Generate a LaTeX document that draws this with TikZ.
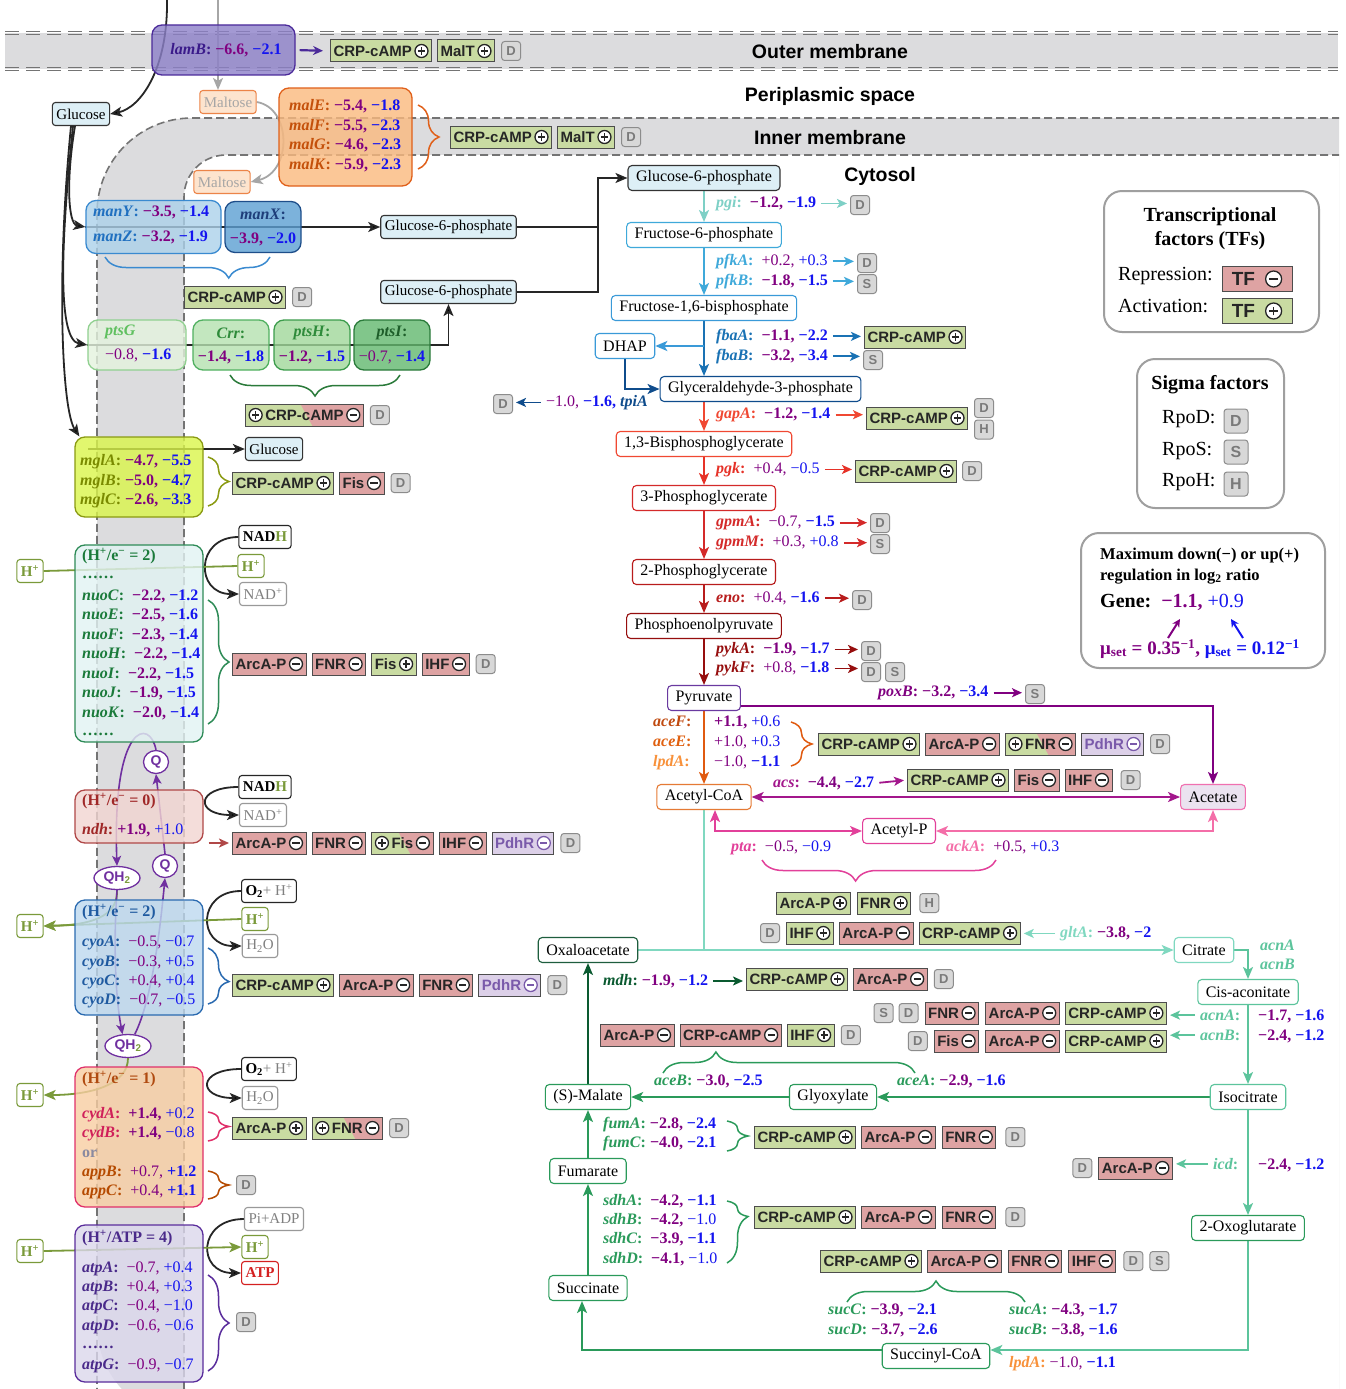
\documentclass[tikz,border=0pt]{standalone}
\usepackage{fontspec}
\setmainfont{Liberation Serif}
\setsansfont{Liberation Sans}
\usetikzlibrary{arrows.meta,positioning,calc,shapes.geometric,decorations.pathreplacing}
\pgfdeclarelayer{mem}
\pgfdeclarelayer{bg}
\pgfsetlayers{mem,bg,main}
\definecolor{cpur}{HTML}{800080}
\definecolor{cblu}{HTML}{1414F0}
\definecolor{memfill}{HTML}{DCDCDE}
\definecolor{memline}{HTML}{747474}
\definecolor{tfgreen}{HTML}{C9DBA2}
\definecolor{tfred}{HTML}{DEA3A3}
\definecolor{tfpurp}{HTML}{DCD0E8}
\definecolor{tfptx}{HTML}{7A5AAA}
\definecolor{tfbd}{HTML}{4D4D4D}
\definecolor{sigfill}{HTML}{D8D8D8}
\definecolor{sigbd}{HTML}{8C8C8C}
\definecolor{sigtx}{HTML}{7A7A7A}
\definecolor{metblue}{HTML}{DDEFF6}
\definecolor{lamfill}{HTML}{8C80C8}
\definecolor{lambd}{HTML}{4B2A9A}
\definecolor{lamtx}{HTML}{3A1A8A}
\definecolor{malfill}{HTML}{FAB97E}
\definecolor{malbd}{HTML}{E0601A}
\definecolor{maltx}{HTML}{C4500A}
\definecolor{maltf}{HTML}{FDE4CE}
\definecolor{maltbd}{HTML}{EC8448}
\definecolor{malttx}{HTML}{A6A6A6}
\definecolor{manyzf}{HTML}{ACD1EA}
\definecolor{manyzbd}{HTML}{3A8AD0}
\definecolor{manyztx}{HTML}{2070C0}
\definecolor{manxf}{HTML}{5C9FD3}
\definecolor{manxbd}{HTML}{1E4E8A}
\definecolor{manxtx}{HTML}{1E3E7A}
\definecolor{ptsgf}{HTML}{E4F3DE}
\definecolor{ptsgbd}{HTML}{90D090}
\definecolor{ptsgtx}{HTML}{60C060}
\definecolor{crrf}{HTML}{B5E1B0}
\definecolor{crrbd}{HTML}{50B060}
\definecolor{crrtx}{HTML}{2E8B3A}
\definecolor{ptshf}{HTML}{A0D89A}
\definecolor{ptshbd}{HTML}{3C9C4C}
\definecolor{ptsif}{HTML}{62B86E}
\definecolor{ptsibd}{HTML}{2A7A3A}
\definecolor{ptsitx}{HTML}{1E5E2A}
\definecolor{mglf}{HTML}{DAF54A}
\definecolor{mglbd}{HTML}{8A9A12}
\definecolor{mgltx}{HTML}{7A8A00}
\definecolor{nuof}{HTML}{E2F3F3}
\definecolor{nuobd}{HTML}{2E8B57}
\definecolor{nuotx}{HTML}{1A7A3A}
\definecolor{ndhf}{HTML}{F2D5D1}
\definecolor{ndhbd}{HTML}{B04848}
\definecolor{ndhtx}{HTML}{A02828}
\definecolor{cyof}{HTML}{BDD9EF}
\definecolor{cyobd}{HTML}{2A6AB0}
\definecolor{cyotx}{HTML}{1F5AA0}
\definecolor{cydf}{HTML}{F8CDA2}
\definecolor{cydbd}{HTML}{E0306A}
\definecolor{cydtx}{HTML}{D0205A}
\definecolor{apptx}{HTML}{B54A00}
\definecolor{cydhd}{HTML}{B04A10}
\definecolor{ortx}{HTML}{8A8AA0}
\definecolor{atpf}{HTML}{DBD7EC}
\definecolor{atpbd}{HTML}{5A2D9C}
\definecolor{atptx}{HTML}{4A2A8A}
\definecolor{olv}{HTML}{7A9A3A}
\definecolor{qpur}{HTML}{7030A0}
\definecolor{cpgi}{HTML}{7ED0C6}
\definecolor{cpfk}{HTML}{3FA9DA}
\definecolor{cfba}{HTML}{1A72B4}
\definecolor{cfbb}{HTML}{3A9AD8}
\definecolor{ctpi}{HTML}{0F4C8C}
\definecolor{cgap}{HTML}{F04832}
\definecolor{cpgk}{HTML}{E63228}
\definecolor{cgpm}{HTML}{D42A2A}
\definecolor{ceno}{HTML}{B81C1C}
\definecolor{cpyk}{HTML}{960E0E}
\definecolor{cpyr}{HTML}{6A3AA0}
\definecolor{cacef}{HTML}{C04A10}
\definecolor{cacee}{HTML}{E06010}
\definecolor{clpd}{HTML}{F8913A}
\definecolor{cpdh}{HTML}{E05A10}
\definecolor{cacoa}{HTML}{E57A35}
\definecolor{cacs}{HTML}{A3178C}
\definecolor{cpta}{HTML}{E2409A}
\definecolor{cack}{HTML}{F46EA8}
\definecolor{acetf}{HTML}{EBE3F0}
\definecolor{acetbd}{HTML}{F070B0}
\definecolor{cteal}{HTML}{80D8C0}
\definecolor{ctca2}{HTML}{5CC49C}
\definecolor{ctca}{HTML}{2A9A5A}
\definecolor{cmdh}{HTML}{0A5A30}
\definecolor{coaa}{HTML}{1E5E3E}
\definecolor{catp}{HTML}{D42020}
\newcommand\fmet{\fontsize{16}{18}\selectfont}
\newcommand\fsml{\fontsize{15}{17}\selectfont}
\newcommand\fgene{\fontsize{16}{18}\selectfont}
\newcommand\ftf{\sffamily\bfseries\fontsize{15}{17}\selectfont}
\newcommand\fmem{\sffamily\bfseries\fontsize{19.5}{21}\selectfont}
\newcommand\fleg{\fontsize{20}{24}\selectfont}
\newcommand\cpl[1][6.5]{\tikz[baseline=-0.68ex]{\draw[line width=1.3pt,fill=white] (0pt,0pt) circle[radius=#1pt]; \draw[line width=1.5pt] ({-0.55*#1pt},0pt) -- ({0.55*#1pt},0pt) (0pt,{-0.55*#1pt}) -- (0pt,{0.55*#1pt});}}
\newcommand\cmi[1][6.5]{\tikz[baseline=-0.68ex]{\draw[line width=1.3pt,fill=white] (0pt,0pt) circle[radius=#1pt]; \draw[line width=1.5pt] ({-0.55*#1pt},0pt) -- ({0.55*#1pt},0pt);}}
\newcommand\vP[1]{\textcolor{cpur}{#1}}
\newcommand\vPb[1]{\textcolor{cpur}{\textbf{#1}}}
\newcommand\vB[1]{\textcolor{cblu}{#1}}
\newcommand\vBb[1]{\textcolor{cblu}{\textbf{#1}}}
\newcommand\gnm[2]{\textcolor{#1}{\textbf{\textit{#2}:}}}
\newcommand\gnx[2]{\textcolor{#1}{\textbf{\textit{#2}}}}
\newcommand\CRPp{CRP-cAMP\,\cpl}
\newcommand\CRPm{CRP-cAMP\,\cmi}
\newcommand\ArcAm{ArcA-P\,\cmi}
\newcommand\ArcAp{ArcA-P\,\cpl}
\newcommand\FNRm{FNR\,\cmi}
\newcommand\FNRp{FNR\,\cpl}
\newcommand\Fism{Fis\,\cmi}
\newcommand\Fisp{Fis\,\cpl}
\newcommand\IHFm{IHF\,\cmi}
\newcommand\IHFp{IHF\,\cpl}
\newcommand\PdhRm{PdhR\,\cmi}
\newcommand\MalTp{MalT\,\cpl}
\newcommand\Hp{H\textsuperscript{+}}
\begin{document}
\begin{tikzpicture}[x=1pt,y=-1pt,
 met/.style={draw=#1, rounded corners=4pt, line width=1.1pt, fill=white, font=\fmet, inner xsep=8pt, inner ysep=0pt, minimum height=25pt},
 sml/.style={draw=#1, rounded corners=3pt, line width=1.1pt, fill=white, font=\fsml, inner xsep=4pt, inner ysep=0pt, minimum height=23pt},
 gl/.style={anchor=mid west, inner sep=0pt, font=\fgene},
 cbox/.style 2 args={draw=#1, fill=#2, fill opacity=0.8, rounded corners=10pt, line width=1.3pt, inner sep=0pt},
 tfb/.style={draw=tfbd, line width=1pt, font=\ftf, text=black!85, minimum height=22pt, inner xsep=3pt, inner ysep=0pt, anchor=west},
 tfg/.style={tfb, fill=tfgreen},
 tfr/.style={tfb, fill=tfred},
 tfp/.style={tfb, fill=tfpurp, text=tfptx},
 tfm/.style={tfb, fill=tfgreen, path picture={\fill[tfred] ($(path picture bounding box.north)+(-4pt,0pt)$) -- (path picture bounding box.north east) -- (path picture bounding box.south east) -- ($(path picture bounding box.south)+(8pt,0pt)$) -- cycle;}},
 sig/.style={draw=sigbd, fill=sigfill, rounded corners=3pt, line width=1pt, font=\sffamily\bfseries\fontsize{13}{13}\selectfont, text=sigtx, minimum width=19pt, minimum height=19pt, inner sep=0pt},
 qn/.style={ellipse, draw=qpur, line width=1.3pt, fill=white, text=qpur, font=\sffamily\bfseries\fontsize{14}{14}\selectfont, inner sep=1pt, minimum width=25pt, minimum height=23pt},
 pw/.style={draw=#1, line width=1.8pt, -{Stealth[length=12pt,width=10pt,inset=3pt]}},
 sa/.style={draw=#1, line width=1.8pt, -{Stealth[length=10pt,width=9pt,inset=2.5pt]}, shorten <=5pt, shorten >=3pt},
 brc/.style={draw=#1, line width=1.5pt, decorate, decoration={brace, amplitude=21pt}},
 blk/.style={draw=black!85, line width=1.8pt, -{Stealth[length=12pt,width=10pt,inset=3pt]}},
 olvl/.style={draw=olv, line width=1.8pt},
 qline/.style={draw=qpur, line width=1.6pt, -{Stealth[length=10pt,width=9pt,inset=2.5pt]}},
 legbox/.style={draw=gray!75, line width=2pt, rounded corners=18pt, fill=white},
 twoway/.style={{Stealth[length=12pt,width=10pt,inset=3pt]}-{Stealth[length=12pt,width=10pt,inset=3pt]}},
]
\useasboundingbox (0,0) rectangle (1345,1389);
% ---------- membranes ----------
\begin{pgfonlayer}{mem}
\fill[white] (0,0) rectangle (1345,1389);
\begin{scope}
\clip (0,0) rectangle (1339,1389);
\fill[memfill] (5,33) rectangle (1338,69);
\foreach \yy in {31.5,34.5,67.5,70.5} \draw[memline,line width=1.7pt,dash pattern=on 14pt off 7pt] (5,\yy) -- (1338,\yy);
\fill[memfill] (1400,118) [rounded corners=95pt] -- (97,118) -- (97,1420) [sharp corners] -- (1400,1420) -- cycle;
\fill[white] (1400,155) [rounded corners=42pt] -- (184,155) -- (184,1420) [sharp corners] -- (1400,1420) -- cycle;
\draw[memline,line width=1.6pt,dash pattern=on 8pt off 4pt] (1400,118) [rounded corners=95pt] -- (97,118) -- (97,1420);
\draw[memline,line width=1.6pt,dash pattern=on 8pt off 4pt] (1400,155) [rounded corners=42pt] -- (184,155) -- (184,1420);
\end{scope}
\end{pgfonlayer}
\node[font=\fmem] (lom) at (830,52) {Outer membrane};
\node[font=\fmem] (lps) at (830,96) {Periplasmic space};
\node[font=\fmem] (lim) at (830,138) {Inner membrane};
\node[font=\fmem] (lcy) at (880,176) {Cytosol};
% ---------- top left ----------
\node[cbox={lambd}{lamfill}, minimum width=143pt, minimum height=50pt] (lamb) at (223.5,50) {};
\node[gl, anchor=center] (lambt) at (226,50) {\gnm{lamtx}{lamB}\ \vPb{−6.6,} \vBb{−2.1}};
\node[tfg] (lr1) at (330,51) {\CRPp};
\node[tfg, right=5pt of lr1] (lr2) {\MalTp};
\node[sig, right=6pt of lr2] (lr3) {D};
\node[sml=black!80, fill=metblue] (glc1) at (81,114) {Glucose};
\node[sml=maltbd, fill=maltf, text=malttx] (malt1) at (228,102) {Maltose};
\node[sml=maltbd, fill=maltf, text=malttx] (malt2) at (222,182) {Maltose};
\node[cbox={malbd}{malfill}, minimum width=133pt, minimum height=98pt] (malb) at (345.5,137) {};
\node[gl] (m1) at (289,108) {\gnm{maltx}{malE}\ \vPb{−5.4,} \vBb{−1.8}};
\node[gl] (m2) at (289,128) {\gnm{maltx}{malF}\ \vPb{−5.5,} \vBb{−2.3}};
\node[gl] (m3) at (289,147) {\gnm{maltx}{malG}\ \vPb{−4.6,} \vBb{−2.3}};
\node[gl] (m4) at (289,167) {\gnm{maltx}{malK}\ \vPb{−5.9,} \vBb{−2.3}};
\draw[brc=malbd] (418,105) -- (418,169);
\node[tfg] (mr1) at (450,137) {\CRPp};
\node[tfg, right=5pt of mr1] (mr2) {\MalTp};
\node[sig, right=6pt of mr2] (mr3) {D};
% man
\node[cbox={manyzbd}{manyzf}, minimum width=135pt, minimum height=53pt] (manyz) at (153.5,227) {};
\node[cbox={manxbd}{manxf}, minimum width=76pt, minimum height=51pt] (manx) at (263,227) {};
\node[gl] (my) at (93,214) {\gnm{manyztx}{manY}\ \vPb{−3.5,} \vBb{−1.4}};
\node[gl] (mz) at (93,239) {\gnm{manyztx}{manZ}\ \vPb{−3.2,} \vBb{−1.9}};
\node[gl, anchor=center] (mx1) at (263,214) {\gnm{manxtx}{manX}};
\node[gl, anchor=center] (mx2) at (263,239) {\vPb{−3.9,} \vBb{−2.0}};
\draw[brc=manyzbd, decoration={aspect=0.25}] (270,257) -- (105,257);
\node[tfg] (manr1) at (184,297) {\CRPp};
\node[sig, right=6pt of manr1] (manr2) {D};
\node[sml=black!80, fill=metblue] (g6pa) at (448.5,227) {Glucose-6-phosphate};
\node[sml=black!80, fill=metblue] (g6pb) at (448.5,292) {Glucose-6-phosphate};
% pts
\node[cbox={ptsgbd}{ptsgf}, minimum width=98pt, minimum height=50pt] (ptsg) at (137,345) {};
\node[cbox={crrbd}{crrf}, minimum width=76pt, minimum height=50pt] (crr) at (231,345) {};
\node[cbox={ptshbd}{ptshf}, minimum width=76pt, minimum height=50pt] (ptsh) at (312,345) {};
\node[cbox={ptsibd}{ptsif}, minimum width=76pt, minimum height=50pt] (ptsi) at (392,345) {};
\node[gl] (ptsg1) at (105,333) {\gnx{ptsgtx}{ptsG}};
\node[gl] (ptsg2) at (105,357) {\vP{−0.8,} \vBb{−1.6}};
\node[gl, anchor=center] (crr1) at (231,333) {\gnm{crrtx}{Crr}};
\node[gl, anchor=center] (crr2) at (231,357) {\vPb{−1.4,} \vBb{−1.8}};
\node[gl, anchor=center] (ptsh1) at (312,333) {\gnm{crrtx}{ptsH}};
\node[gl, anchor=center] (ptsh2) at (312,357) {\vPb{−1.2,} \vBb{−1.5}};
\node[gl, anchor=center] (ptsi1) at (392,333) {\gnm{ptsitx}{ptsI}};
\node[gl, anchor=center] (ptsi2) at (392,357) {\vP{−0.7,} \vBb{−1.4}};
\draw[brc=ptsibd] (400,375) -- (230,375);
\node[tfm] (ptsr1) at (245,415) {\cpl\,CRP-cAMP\,\cmi};
\node[sig, right=6pt of ptsr1] (ptsr2) {D};
% mgl
\node[cbox={mglbd}{mglf}, minimum width=128pt, minimum height=80pt] (mgl) at (139,477) {};
\node[gl] (mg1) at (80,463) {\gnm{mgltx}{mglA}\ \vPb{−4.7,} \vBb{−5.5}};
\node[gl] (mg2) at (80,483) {\gnm{mgltx}{mglB}\ \vPb{−5.0,} \vBb{−4.7}};
\node[gl] (mg3) at (80,502) {\gnm{mgltx}{mglC}\ \vPb{−2.6,} \vBb{−3.3}};
\node[sml=black!80, fill=metblue] (glc2) at (274,449) {Glucose};
\draw[brc=mglbd] (208,457) -- (208,506);
\node[tfg] (mgr1) at (232,483) {\CRPp};
\node[tfr, right=5pt of mgr1] (mgr2) {\Fism};
\node[sig, right=6pt of mgr2] (mgr3) {D};
% nuo
\node[cbox={nuobd}{nuof}, minimum width=128pt, minimum height=197pt] (nuo) at (139,643.5) {};
\node[gl] (nu0) at (82,558) {\textcolor{nuotx}{\textbf{(H\textsuperscript{+}/e\textsuperscript{−} = 2)}}};
\node[gl] (nu00) at (82,576) {\textcolor{nuotx}{\textbf{……}}};
\node[gl] (nu1) at (82,598) {\gnm{nuotx}{nuoC}\enspace\vPb{−2.2,} \vBb{−1.2}};
\node[gl] (nu2) at (82,617) {\gnm{nuotx}{nuoE}\enspace\vPb{−2.5,} \vBb{−1.6}};
\node[gl] (nu3) at (82,637) {\gnm{nuotx}{nuoF}\enspace\vPb{−2.3,} \vBb{−1.4}};
\node[gl] (nu4) at (82,656) {\gnm{nuotx}{nuoH}\enspace\vPb{−2.2,} \vBb{−1.4}};
\node[gl] (nu5) at (82,676) {\gnm{nuotx}{nuoI}\enspace\vPb{−2.2,} \vBb{−1.5}};
\node[gl] (nu6) at (82,695) {\gnm{nuotx}{nuoJ}\enspace\vPb{−1.9,} \vBb{−1.5}};
\node[gl] (nu7) at (82,715) {\gnm{nuotx}{nuoK}\enspace\vPb{−2.0,} \vBb{−1.4}};
\node[gl] (nu8) at (82,733) {\textcolor{nuotx}{\textbf{……}}};
\node[sml=black!85, font=\bfseries\fsml] (nadh1) at (265,537) {NAD\textcolor{olv}{H}};
\node[sml=olv, text=olv, font=\bfseries\fsml] (hp1) at (251,566) {\Hp};
\node[sml=gray!80, text=gray] (nad1) at (263,594) {NAD\textsuperscript{+}};
\node[sml=olv, text=olv, font=\bfseries\fsml] (hpl1) at (30,571) {\Hp};
\draw[brc=nuobd] (208,600) -- (208,724);
\node[tfr] (nur1) at (232,664) {\ArcAm};
\node[tfr, right=5pt of nur1] (nur2) {\FNRm};
\node[tfg, right=5pt of nur2] (nur3) {\Fisp};
\node[tfr, right=5pt of nur3] (nur4) {\IHFm};
\node[sig, right=6pt of nur4] (nur5) {D};
% ndh
\node[cbox={ndhbd}{ndhf}, minimum width=128pt, minimum height=53pt] (ndh) at (139,816.5) {};
\node[gl] (nd0) at (82,803) {\textcolor{ndhtx}{\textbf{(H\textsuperscript{+}/e\textsuperscript{−} = 0)}}};
\node[gl] (nd1) at (82,832) {\gnm{ndhtx}{ndh}\ \vPb{+1.9,} \vB{+1.0}};
\node[sml=black!85, font=\bfseries\fsml] (nadh2) at (265,787) {NAD\textcolor{olv}{H}};
\node[sml=gray!80, text=gray] (nad2) at (263,815) {NAD\textsuperscript{+}};
\node[tfr] (ndr1) at (232,843) {\ArcAm};
\node[tfr, right=5pt of ndr1] (ndr2) {\FNRm};
\node[tfm, right=5pt of ndr2] (ndr3) {\cpl\,Fis\,\cmi};
\node[tfr, right=5pt of ndr3] (ndr4) {\IHFm};
\node[tfp, right=5pt of ndr4] (ndr5) {\PdhRm};
\node[sig, right=6pt of ndr5] (ndr6) {D};
% cyo
\node[cbox={cyobd}{cyof}, minimum width=128pt, minimum height=115pt] (cyo) at (139,957.5) {};
\node[gl] (cy0) at (82,914) {\textcolor{cyotx}{\textbf{(H\textsuperscript{+}/e\textsuperscript{−} = 2)}}};
\node[gl] (cy1) at (82,944) {\gnm{cyotx}{cyoA}\enspace\vP{−0.5,} \vB{−0.7}};
\node[gl] (cy2) at (82,964) {\gnm{cyotx}{cyoB}\enspace\vP{−0.3,} \vB{+0.5}};
\node[gl] (cy3) at (82,983) {\gnm{cyotx}{cyoC}\enspace\vP{+0.4,} \vB{+0.4}};
\node[gl] (cy4) at (82,1002) {\gnm{cyotx}{cyoD}\enspace\vP{−0.7,} \vB{−0.5}};
\node[sml=black!85] (o2a) at (269,891) {\textbf{O\textsubscript{2}}\textcolor{gray}{+ H\textsuperscript{+}}};
\node[sml=olv, text=olv, font=\bfseries\fsml] (hp2) at (255,919) {\Hp};
\node[sml=gray!80, text=gray] (h2oa) at (260,946) {H\textsubscript{2}O};
\node[sml=olv, text=olv, font=\bfseries\fsml] (hpl2) at (30,926) {\Hp};
\draw[brc=cyobd, decoration={aspect=0.6}] (208,948) -- (208,1004);
\node[tfg] (cyr1) at (232,985) {\CRPp};
\node[tfr, right=5pt of cyr1] (cyr2) {\ArcAm};
\node[tfr, right=5pt of cyr2] (cyr3) {\FNRm};
\node[tfp, right=5pt of cyr3] (cyr4) {\PdhRm};
\node[sig, right=6pt of cyr4] (cyr5) {D};
% Q
\node[qn] (qa) at (156,762) {Q};
\node[qn] (qb) at (165,866) {Q};
\node[qn, minimum width=46pt] (qh2a) at (117,878) {QH\textsubscript{\textcolor{olv}{2}}};
\node[qn, minimum width=46pt] (qh2b) at (128,1046) {QH\textsubscript{\textcolor{olv}{2}}};
% cyd
\node[cbox={cydbd}{cydf}, minimum width=128pt, minimum height=140pt] (cyd) at (139,1137) {};
\node[gl] (cd0) at (82,1081) {\textcolor{cydhd}{\textbf{(H\textsuperscript{+}/e\textsuperscript{−} = 1)}}};
\node[gl] (cd1) at (82,1116) {\gnm{cydtx}{cydA}\enspace\vPb{+1.4,} \vB{+0.2}};
\node[gl] (cd2) at (82,1135) {\gnm{cydtx}{cydB}\enspace\vPb{+1.4,} \vB{−0.8}};
\node[gl] (cd3) at (82,1155) {\textcolor{ortx}{\textbf{or}}};
\node[gl] (cd4) at (82,1174) {\gnm{apptx}{appB}\enspace\vP{+0.7,} \vBb{+1.2}};
\node[gl] (cd5) at (82,1193) {\gnm{apptx}{appC}\enspace\vP{+0.4,} \vBb{+1.1}};
\node[sml=black!85] (o2b) at (269,1069) {\textbf{O\textsubscript{2}}\textcolor{gray}{+ H\textsuperscript{+}}};
\node[sml=gray!80, text=gray] (h2ob) at (260,1098) {H\textsubscript{2}O};
\node[sml=olv, text=olv, font=\bfseries\fsml] (hpl3) at (30,1095) {\Hp};
\draw[brc=cydbd] (208,1112) -- (208,1141);
\node[tfg] (cdr1) at (232,1128) {\ArcAp};
\node[tfm, right=5pt of cdr1] (cdr2) {\cpl\,FNR\,\cmi};
\node[sig, right=6pt of cdr2] (cdr3) {D};
\draw[brc=apptx] (208,1171) -- (208,1199);
\node[sig] (appd) at (246,1185) {D};
% atp
\node[cbox={atpbd}{atpf}, minimum width=128pt, minimum height=157pt] (atpb) at (139,1303.5) {};
\node[gl] (at0) at (82,1240) {\textcolor{atptx}{\textbf{(H\textsuperscript{+}/ATP = 4)}}};
\node[gl] (at1) at (82,1270) {\gnm{atptx}{atpA}\enspace\vP{−0.7,} \vB{+0.4}};
\node[gl] (at2) at (82,1289) {\gnm{atptx}{atpB}\enspace\vP{+0.4,} \vB{+0.3}};
\node[gl] (at3) at (82,1308) {\gnm{atptx}{atpC}\enspace\vP{−0.4,} \vB{−1.0}};
\node[gl] (at4) at (82,1328) {\gnm{atptx}{atpD}\enspace\vP{−0.6,} \vB{−0.6}};
\node[gl] (at5) at (82,1346) {\textcolor{atptx}{\textbf{……}}};
\node[gl] (at6) at (82,1367) {\gnm{atptx}{atpG}\enspace\vP{−0.9,} \vB{−0.7}};
\node[sml=gray!80, text=gray] (piadp) at (274,1219) {Pi+ADP};
\node[sml=olv, text=olv, font=\bfseries\fsml] (hp3) at (255,1247) {\Hp};
\node[sml=catp, text=catp, font=\bfseries\fsml] (atpn) at (260,1273) {ATP};
\node[sml=olv, text=olv, font=\bfseries\fsml] (hpl4) at (30,1251) {\Hp};
\draw[brc=atpbd] (208,1275) -- (208,1371);
\node[sig] (atpd) at (246,1322) {D};
% ---------- glycolysis ----------
\node[met=black!80, fill=metblue] (g6p) at (704,178) {Glucose-6-phosphate};
\node[met=cpfk] (f6p) at (704,235) {Fructose-6-phosphate};
\node[met=cfbb] (fbp) at (704,308) {Fructose-1,6-bisphosphate};
\node[met=cfbb] (dhap) at (625,346) {DHAP};
\node[met=ctpi] (gap) at (760.5,389) {Glyceraldehyde-3-phosphate};
\node[met=cgap] (bpg) at (704,444) {1,3-Bisphosphoglycerate};
\node[met=cgpm] (pg3) at (704,498) {3-Phosphoglycerate};
\node[met=ceno] (pg2) at (704,572) {2-Phosphoglycerate};
\node[met=cpyk] (pep) at (704,626) {Phosphoenolpyruvate};
\node[met=cpyr] (pyr) at (704,698) {Pyruvate};
\node[met=cacoa] (acoa) at (704,797) {Acetyl-CoA};
\node[met=acetbd, fill=acetf] (acet) at (1213,797) {Acetate};
\node[met=cpta] (acp) at (899,831) {Acetyl-P};
\node[met=coaa] (oaa) at (588,950) {Oxaloacetate};
\node[met=cteal] (cit) at (1204,950) {Citrate};
\node[met=ctca2] (cis) at (1248,992) {Cis-aconitate};
\node[met=ctca2] (iso) at (1248,1097) {Isocitrate};
\node[met=ctca] (glyox) at (833,1097) {Glyoxylate};
\node[met=ctca] (mal) at (588,1097) {(S)-Malate};
\node[met=ctca] (fum) at (588,1171) {Fumarate};
\node[met=ctca] (suc) at (588,1288) {Succinate};
\node[met=ctca] (oxo) at (1248,1228) {2-Oxoglutarate};
\node[met=ctca] (scoa) at (936,1356) {Succinyl-CoA};
% labels glycolysis
\node[gl] (lpgi) at (716,205) {\gnm{cpgi}{pgi}\enspace\vPb{−1.2,} \vBb{−1.9}};
\node[sig] (dpgi) at (860,205) {D};
\node[gl] (lpfka) at (716,263) {\gnm{cpfk}{pfkA}\enspace\vP{+0.2,} \vB{+0.3}};
\node[sig] (dpfka) at (867,263) {D};
\node[gl] (lpfkb) at (716,283) {\gnm{cpfk}{pfkB}\enspace\vPb{−1.8,} \vBb{−1.5}};
\node[sig] (dpfkb) at (867,284) {S};
\node[gl] (lfbaa) at (716,338) {\gnm{cfba}{fbaA}\enspace\vPb{−1.1,} \vBb{−2.2}};
\node[tfg] (rfbaa) at (864,337) {\CRPp};
\node[gl] (lfbab) at (716,358) {\gnm{cfba}{fbaB}\enspace\vPb{−3.2,} \vBb{−3.4}};
\node[sig] (dfbab) at (873,360) {S};
\node[gl, anchor=mid east] (ltpi) at (648,404) {\vP{−1.0,} \vBb{−1.6,} \gnx{ctpi}{tpiA}};
\node[sig] (dtpi) at (503,404) {D};
\node[gl] (lgap) at (716,416) {\gnm{cgap}{gapA}\enspace\vPb{−1.2,} \vBb{−1.4}};
\node[tfg] (rgap) at (866,418) {\CRPp};
\node[sig] (dgap1) at (984,408) {D};
\node[sig] (dgap2) at (984,429.5) {H};
\node[gl] (lpgk) at (716,471) {\gnm{cpgk}{pgk}\enspace\vP{+0.4,} \vB{−0.5}};
\node[tfg] (rpgk) at (855,471) {\CRPp};
\node[sig, right=5pt of rpgk] (dpgk) {D};
\node[gl] (lgpma) at (716,524) {\gnm{cgpm}{gpmA}\enspace\vP{−0.7,} \vBb{−1.5}};
\node[sig] (dgpma) at (880,523) {D};
\node[gl] (lgpmm) at (716,544) {\gnm{cgpm}{gpmM}\enspace\vP{+0.3,} \vB{+0.8}};
\node[sig] (dgpmm) at (880,544) {S};
\node[gl] (leno) at (716,600) {\gnm{ceno}{eno}\enspace\vP{+0.4,} \vBb{−1.6}};
\node[sig] (deno) at (862,600) {D};
\node[gl] (lpyka) at (716,651) {\gnm{cpyk}{pykA}\enspace\vPb{−1.9,} \vBb{−1.7}};
\node[sig] (dpyka) at (871,651) {D};
\node[gl] (lpykf) at (716,670) {\gnm{cpyk}{pykF}\enspace\vP{+0.8,} \vBb{−1.8}};
\node[sig] (dpykf) at (871,672) {D};
\node[sig] (spykf) at (895,672) {S};
\node[gl] (lpox) at (878,694) {\gnm{cpur}{poxB}\ \vPb{−3.2,} \vBb{−3.4}};
\node[sig] (spox) at (1035,694) {S};
% pyruvate dehydrogenase
\node[gl] (laf) at (653,724) {\gnm{cacef}{aceF}};
\node[gl] (lae) at (653,744) {\gnm{cacee}{aceE}};
\node[gl] (llp) at (653,764) {\gnm{clpd}{lpdA}};
\node[gl] (vaf) at (714,724) {\vPb{+1.1,} \vB{+0.6}};
\node[gl] (vae) at (714,744) {\vP{+1.0,} \vB{+0.3}};
\node[gl] (vlp) at (714,764) {\vP{−1.0,} \vBb{−1.1}};
\draw[brc=cpdh] (791,722) -- (791,766);
\node[tfg] (acr1) at (818,744) {\CRPp};
\node[tfr, right=5pt of acr1] (acr2) {\ArcAm};
\node[tfm, right=5pt of acr2] (acr3) {\cpl\,FNR\,\cmi};
\node[tfp, right=5pt of acr3] (acr4) {\PdhRm};
\node[sig, right=6pt of acr4] (acr5) {D};
\node[gl] (lacs) at (773,785) {\gnm{cacs}{acs}\enspace\vPb{−4.4,} \vBb{−2.7}};
\node[tfg] (csr1) at (907,780) {\CRPp};
\node[tfr, right=5pt of csr1] (csr2) {\Fism};
\node[tfr, right=5pt of csr2] (csr3) {\IHFm};
\node[sig, right=8pt of csr3] (csr4) {D};
\node[gl] (lpta) at (731,849) {\gnm{cpta}{pta}\enspace\vP{−0.5,} \vB{−0.9}};
\node[gl] (lack) at (946,849) {\gnm{cack}{ackA}\enspace\vP{+0.5,} \vB{+0.3}};
\draw[brc=cpta, decoration={aspect=0.6}] (996,860) -- (762,860);
\node[tfg] (pr1) at (776,903) {\ArcAp};
\node[tfg, right=6pt of pr1] (pr2) {\FNRp};
\node[sig, right=8pt of pr2] (pr3) {H};
\node[sig, anchor=west] (pq1) at (760,933) {D};
\node[tfg, right=6pt of pq1] (pq2) {\IHFp};
\node[tfr, right=5pt of pq2] (pq3) {\ArcAm};
\node[tfg, right=5pt of pq3] (pq4) {\CRPp};
\node[gl] (lglt) at (1060,935) {\gnm{cteal}{gltA}\ \vPb{−3.8,} \vBb{−2}};
% TCA labels
\node[gl] (lacn1) at (1260,948) {\gnx{ctca2}{acnA}};
\node[gl] (lacn2) at (1260,967) {\gnx{ctca2}{acnB}};
\node[gl] (lacna) at (1200,1018) {\gnm{ctca2}{acnA}};
\node[gl] (vacna) at (1258,1018) {\vPb{−1.7,} \vBb{−1.6}};
\node[gl] (lacnb) at (1200,1038) {\gnm{ctca2}{acnB}};
\node[gl] (vacnb) at (1258,1038) {\vPb{−2.4,} \vBb{−1.2}};
\node[tfg, anchor=east] (an1) at (1167,1013) {\CRPp};
\node[tfr, left=5pt of an1] (an2) {\ArcAm};
\node[tfr, left=6pt of an2] (an3) {\FNRm};
\node[sig, left=6pt of an3] (an4) {D};
\node[sig, left=5pt of an4] (an5) {S};
\node[tfg, anchor=east] (bn1) at (1167,1041) {\CRPp};
\node[tfr, left=5pt of bn1] (bn2) {\ArcAm};
\node[tfr, left=6pt of bn2] (bn3) {\Fism};
\node[sig, left=6pt of bn3] (bn4) {D};
\node[gl] (lmdh) at (603,983) {\gnm{cmdh}{mdh}\ \vPb{−1.9,} \vBb{−1.2}};
\node[tfg] (mdr1) at (746,979) {\CRPp};
\node[tfr, right=5pt of mdr1] (mdr2) {\ArcAm};
\node[sig, right=6pt of mdr2] (mdr3) {D};
\node[tfr] (gyr1) at (600,1035) {\ArcAm};
\node[tfr, right=5pt of gyr1] (gyr2) {\CRPm};
\node[tfg, right=5pt of gyr2] (gyr3) {\IHFp};
\node[sig, right=6pt of gyr3] (gyr4) {D};
\draw[brc=ctca, decoration={aspect=0.21}] (663,1073) -- (915,1073);
\node[gl] (lacea) at (897,1083) {\gnm{ctca}{aceA}\ \vPb{−2.9,} \vBb{−1.6}};
\node[gl] (laceb) at (654,1083) {\gnm{ctca}{aceB}\ \vPb{−3.0,} \vBb{−2.5}};
\node[gl] (lfuma) at (603,1126) {\gnm{ctca}{fumA}\ \vPb{−2.8,} \vBb{−2.4}};
\node[gl] (lfumc) at (603,1145) {\gnm{ctca}{fumC}\ \vPb{−4.0,} \vBb{−2.1}};
\draw[brc=ctca] (727,1121) -- (727,1151);
\node[tfg] (fur1) at (754,1137) {\CRPp};
\node[tfr, right=5pt of fur1] (fur2) {\ArcAm};
\node[tfr, right=6pt of fur2] (fur3) {\FNRm};
\node[sig, right=9pt of fur3] (fur4) {D};
\node[gl] (lsdha) at (603,1203) {\gnm{ctca}{sdhA}\enspace\vPb{−4.2,} \vBb{−1.1}};
\node[gl] (lsdhb) at (603,1222) {\gnm{ctca}{sdhB}\enspace\vPb{−4.2,} \vB{−1.0}};
\node[gl] (lsdhc) at (603,1241) {\gnm{ctca}{sdhC}\enspace\vPb{−3.9,} \vBb{−1.1}};
\node[gl] (lsdhd) at (603,1261) {\gnm{ctca}{sdhD}\enspace\vPb{−4.1,} \vB{−1.0}};
\draw[brc=ctca, decoration={aspect=0.25}] (727,1201) -- (727,1263);
\node[tfg] (sdr1) at (754,1217) {\CRPp};
\node[tfr, right=5pt of sdr1] (sdr2) {\ArcAm};
\node[tfr, right=6pt of sdr2] (sdr3) {\FNRm};
\node[sig, right=9pt of sdr3] (sdr4) {D};
\node[gl] (licd) at (1213,1167) {\gnm{ctca2}{icd}};
\node[gl] (vicd) at (1258,1167) {\vPb{−2.4,} \vBb{−1.2}};
\node[tfr, anchor=east] (icr1) at (1173,1168) {\ArcAm};
\node[sig, left=6pt of icr1] (icr2) {D};
\node[tfg] (sur1) at (820,1261) {\CRPp};
\node[tfr, right=5pt of sur1] (sur2) {\ArcAm};
\node[tfr, right=6pt of sur2] (sur3) {\FNRm};
\node[tfr, right=6pt of sur3] (sur4) {\IHFm};
\node[sig, right=7pt of sur4] (sur5) {D};
\node[sig, right=6pt of sur5] (sur6) {S};
\draw[brc=ctca] (847,1302) -- (1025,1302);
\node[gl] (lsucc) at (828,1312) {\gnm{ctca}{sucC}\ \vPb{−3.9,} \vBb{−2.1}};
\node[gl] (lsucd) at (828,1332) {\gnm{ctca}{sucD}\ \vPb{−3.7,} \vBb{−2.6}};
\node[gl] (lsuca) at (1009,1312) {\gnm{ctca}{sucA}\ \vPb{−4.3,} \vBb{−1.7}};
\node[gl] (lsucb) at (1009,1332) {\gnm{ctca}{sucB}\ \vPb{−3.8,} \vBb{−1.6}};
\node[gl] (llpd2) at (1009,1365) {\gnm{clpd}{lpdA}\ \vP{−1.0,} \vBb{−1.1}};
% ---------- legends ----------
\node[legbox, minimum width=215pt, minimum height=141pt] (leg1) at (1211.5,261.5) {};
\node[font=\fleg\bfseries, align=center, inner sep=0pt] (leg1t) at (1210,229) {Transcriptional\\factors (TFs)};
\node[font=\fleg, anchor=mid west, inner sep=0pt] (leg1a) at (1118,278) {Repression:};
\node[tfr, anchor=center, font=\sffamily\bfseries\fontsize{19}{20}\selectfont, minimum width=70pt, minimum height=25pt] (leg1b) at (1257,279) {TF\hspace{10pt}\cmi[8]};
\node[font=\fleg, anchor=mid west, inner sep=0pt] (leg1c) at (1118,310) {Activation:};
\node[tfg, anchor=center, font=\sffamily\bfseries\fontsize{19}{20}\selectfont, minimum width=70pt, minimum height=25pt] (leg1d) at (1257,311) {TF\hspace{10pt}\cpl[8]};
\node[legbox, minimum width=147pt, minimum height=149pt] (leg2) at (1210.5,433.5) {};
\node[font=\fleg\bfseries] (leg2t) at (1210,385) {Sigma factors};
\node[font=\fleg, anchor=mid west, inner sep=0pt] (leg2a) at (1162,421) {RpoD:};
\node[sig, minimum width=24pt, minimum height=24pt, font=\sffamily\bfseries\fontsize{16}{16}\selectfont] (leg2b) at (1236,421) {D};
\node[font=\fleg, anchor=mid west, inner sep=0pt] (leg2c) at (1162,453) {RpoS:};
\node[sig, minimum width=24pt, minimum height=24pt, font=\sffamily\bfseries\fontsize{16}{16}\selectfont] (leg2d) at (1236,452) {S};
\node[font=\fleg, anchor=mid west, inner sep=0pt] (leg2e) at (1162,484) {RpoH:};
\node[sig, minimum width=24pt, minimum height=24pt, font=\sffamily\bfseries\fontsize{16}{16}\selectfont] (leg2f) at (1236,484) {H};
\node[legbox, minimum width=244pt, minimum height=135pt] (leg3) at (1203,600.5) {};
\node[anchor=mid west, inner sep=0pt, font=\bfseries\fontsize{16.5}{20}\selectfont] (leg3a) at (1100,557) {Maximum down(−) or up(+)};
\node[anchor=mid west, inner sep=0pt, font=\bfseries\fontsize{16.5}{20}\selectfont] (leg3b) at (1100,578) {regulation in log\textsubscript{2} ratio};
\node[anchor=mid west, inner sep=0pt, font=\fontsize{20}{22}\selectfont] (leg3c) at (1100,605) {\textbf{Gene:}\enspace\vPb{−1.1,} \vB{+0.9}};
\node[anchor=mid west, inner sep=0pt, font=\bfseries\fontsize{19}{22}\selectfont] (leg3d) at (1100,652) {\textcolor{cpur}{μ\textsubscript{set} = 0.35\textsuperscript{−1},} \textcolor{cblu}{μ\textsubscript{set} = 0.12\textsuperscript{−1}}};
\coordinate (la1) at (1168,638);
\coordinate (la2) at (1180,619);
\coordinate (lb1) at (1243,638);
\coordinate (lb2) at (1231,619);
\draw[draw=cpur, line width=2pt, -{Stealth[length=8pt,width=8pt]}] (la1) -- (la2);
\draw[draw=cblu, line width=2pt, -{Stealth[length=8pt,width=8pt]}] (lb1) -- (lb2);
% ---------- connectors (under boxes) ----------
\begin{pgfonlayer}{bg}
\coordinate (top1) at (167,0);
\coordinate (top2) at (218,0);
\draw[blk] (top1) .. controls (168,70) and (140,108) .. (glc1.east);
\draw[draw=gray!70, line width=1.8pt, -{Stealth[length=12pt,width=10pt,inset=3pt]}] (top2) -- (top2 |- malt1.north);
\draw[draw=gray!70, line width=1.8pt, -{Stealth[length=12pt,width=10pt,inset=3pt]}] (malt1.east) .. controls (292,108) and (292,172) .. (malt2.east);
\draw[draw=lambd, line width=2.2pt, -{Stealth[length=10pt,width=9pt]}, shorten <=4pt, shorten >=7pt] (lamb.east) -- (lr1.west);
\draw[blk] ([xshift=-6pt]glc1.south) .. controls (66,180) and (68,224) .. (manyz.west);
\draw[blk] ([xshift=-8pt]glc1.south) .. controls (60,250) and (58,340) .. (ptsg.west);
\draw[blk] ([xshift=-10pt]glc1.south) .. controls (56,280) and (62,410) .. ([xshift=5pt]mgl.north west);
\draw[blk] (manyz.west) -- (g6pa.west);
\draw[blk] (ptsg.west) -| (g6pb.south);
\coordinate (mglin) at (88,449);
\draw[blk] (mglin) -- (glc2.west);
\draw[blk] (g6pa.east) -- ++(81,0) |- (g6p.west);
\draw[line width=1.8pt, black!85] (g6pb.east) -| ($(g6pa.east)+(81,0)$);
% respiratory chain
\draw[blk] (nadh1.west) .. controls (195,537) and (195,594) .. (nad1.west);
\draw[blk] (nadh2.west) .. controls (195,787) and (195,815) .. (nad2.west);
\draw[blk] (o2a.west) .. controls (197,891) and (197,946) .. (h2oa.west);
\draw[blk] (o2b.west) .. controls (197,1069) and (197,1098) .. (h2ob.west);
\draw[blk] (piadp.west) .. controls (197,1219) and (197,1273) .. (atpn.west);
\draw[olvl] (hp1.west) -- (hpl1.east);
\draw[olvl, -{Stealth[length=12pt,width=10pt,inset=3pt]}] (hp2.west) -- (hpl2.east);
\draw[olvl, -{Stealth[length=12pt,width=10pt,inset=3pt]}] (qh2a.south) .. controls (118,912) and (100,925) .. (hpl2.east);
\draw[olvl, -{Stealth[length=12pt,width=10pt,inset=3pt]}] (qh2b.south) .. controls (128,1085) and (90,1095) .. (hpl3.east);
\draw[olvl, -{Stealth[length=12pt,width=10pt,inset=3pt]}] (hpl4.east) -- (hp3.west);
\draw[qline] (qa.north) .. controls (150,718) and (112,722) .. (qh2a.north);
\draw[qline] (qb.north) -- (qa.south);
\draw[qline] (qh2a.south) .. controls (113,950) and (116,1000) .. (qh2b.115);
\draw[qline] (qh2b.60) .. controls (152,1000) and (160,930) .. (qb.south);
\draw[sa=ndhbd] (ndh.east |- ndr1.west) -- (ndr1.west);
% glycolysis
\draw[pw=cpgi] (g6p) -- (f6p);
\draw[pw=cpfk] (f6p) -- (fbp);
\draw[pw=cfba] (fbp.south) -- (fbp.south |- gap.north);
\draw[pw=cfbb] (fbp.south |- dhap.east) -- (dhap.east);
\draw[pw=ctpi] (dhap.south) |- (gap.west);
\draw[pw=cgap] (bpg.north |- gap.south) -- (bpg.north);
\draw[pw=cpgk] (bpg) -- (pg3);
\draw[pw=cgpm] (pg3) -- (pg2);
\draw[pw=ceno] (pg2) -- (pep);
\draw[pw=cpyk] (pep) -- (pyr);
\draw[pw=cpdh] (pyr) -- (acoa);
\draw[pw=cpur] ([yshift=-8pt]pyr.east) -| (acet.north);
\draw[pw=cacs, twoway] (acet.west) -- (acoa.east);
\draw[pw=cpta, twoway] (acp.west) -| ([xshift=11pt]acoa.south);
\draw[pw=cack, twoway] (acp.east) -| (acet.south);
\draw[line width=1.8pt, draw=cteal] (acoa.south) -- (acoa.south |- oaa.east);
\draw[pw=cteal] (oaa.east) -- (cit.west);
\draw[pw=ctca2] (cit.east) -| (cis.north);
\draw[pw=ctca2] (cis) -- (iso);
\draw[pw=ctca] (iso) -- (glyox);
\draw[pw=ctca] (glyox) -- (mal);
\draw[pw=cmdh] (mal) -- (oaa);
\draw[pw=ctca] (fum) -- (mal);
\draw[pw=ctca] (suc) -- (fum);
\draw[pw=ctca2] (iso) -- (oxo);
\draw[pw=ctca2] (oxo.south) |- ([yshift=6pt]scoa.east);
\draw[pw=ctca] ([yshift=6pt]scoa.west) -| ([xshift=-6pt]suc.south);
% label arrows
\draw[sa=cpgi] (lpgi.east) -- (lpgi.east -| dpgi.west);
\draw[sa=cpfk] (lpfka.east) -- (lpfka.east -| dpfka.west);
\draw[sa=cpfk] (lpfkb.east) -- (lpfkb.east -| dpfkb.west);
\draw[sa=cfba] (lfbaa.east) -- (lfbaa.east -| rfbaa.west);
\draw[sa=cfba] (lfbab.east) -- (lfbab.east -| dfbab.west);
\draw[sa=ctpi] (ltpi.west) -- (ltpi.west -| dtpi.east);
\draw[sa=cgap] (lgap.east) -- (lgap.east -| rgap.west);
\draw[sa=cpgk] (lpgk.east) -- (lpgk.east -| rpgk.west);
\draw[sa=cgpm] (lgpma.east) -- (lgpma.east -| dgpma.west);
\draw[sa=cgpm] (lgpmm.east) -- (lgpmm.east -| dgpmm.west);
\draw[sa=ceno] (leno.east) -- (leno.east -| deno.west);
\draw[sa=cpyk] (lpyka.east) -- (lpyka.east -| dpyka.west);
\draw[sa=cpyk] (lpykf.east) -- (lpykf.east -| dpykf.west);
\draw[sa=cpur] (lpox.east) -- (lpox.east -| spox.west);
\draw[sa=cacs] (lacs.east) -- (csr1.west);
\draw[sa=cteal] (lglt.west) -- (lglt.west -| pq4.east);
\draw[sa=ctca2] (lacna.west) -- (lacna.west -| an1.east);
\draw[sa=ctca2] (lacnb.west) -- (lacnb.west -| bn1.east);
\draw[sa=cmdh] (lmdh.east) -- (lmdh.east -| mdr1.west);
\draw[sa=ctca2] (licd.west) -- (licd.west -| icr1.east);
\end{pgfonlayer}
\end{tikzpicture}
\end{document}
